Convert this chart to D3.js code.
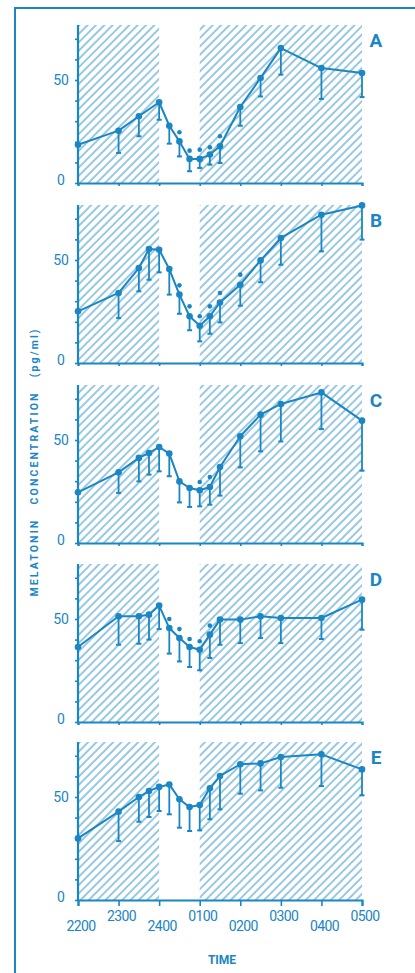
<!DOCTYPE html>
<html>
<head>
<meta charset="utf-8">
<script src="https://cdn.jsdelivr.net/npm/d3@7"></script>
<style>
	body { margin: 0; background: #fff; }
	svg { display: block; font-family: 'Roboto', 'Liberation Sans', sans-serif; }
</style>
</head>
<body>
<svg id="chart" width="415" height="973"></svg>
<script>
// sample times, hours from 2200 (22) to 0500 (29)
const times = [22, 23, 23.5, 23.75, 24, 24.25, 24.5, 24.75, 25, 25.25, 25.5, 26, 26.5, 27, 28, 29];

// panel A (no 2345 sample)
const meanA = [18.6, 25.4, 32.4, null, 39.2, 27.8, 20.2, 11.7, 11.7, 13.8, 17.8, 36.9, 51, 65.5, 55.8, 53.4];
const lowA = [null, 14.6, 22.7, null, 30.7, 19.1, 12.9, 5.7, 7.3, 8.9, 9.7, 27.8, 42, 52.6, 40.8, 41.7];
const dotTimesA = [24.5, 24.75, 25, 25.25, 25.5];
const dotA = [24.6, 15.7, 16.2, 17.3, 22.7];

// panel B
const meanB = [25.1, 34, 46.1, 55.3, 55, 45.6, 33.2, 22.7, 18.1, 22.7, 29.4, 38, 49.8, 60.7, 72, 76.5];
const lowB = [null, 21.8, 34.8, 40.4, 44, 33.2, 23.9, 15.9, 10.5, 14.2, 19.7, 27.8, 39.2, 47.7, 54.2, 59.9];
const dotTimesB = [24.5, 24.75, 25, 25.25, 25.5, 26];
const dotB = [37.7, 27.5, 22.7, 27.5, 34, 42.9];

// panel C
const meanC = [24.6, 34.3, 41.3, 43.7, 46.6, 43.4, 29.9, 26.7, 25.6, 27.2, 36.9, 51.8, 62.3, 67.5, 73.1, 59.4];
const lowC = [null, 24.3, 29.9, 33.2, 34.8, 32.4, 19.7, 17.5, 17.8, 18.6, 23, 36.7, 44.5, 49.3, 55.3, 35.1];
const dotTimesC = [25, 25.25];
const dotC = [29.6, 32];

// panel D
const meanD = [36.4, 51.3, 51.3, 52.1, 56.5, 45.6, 40.8, 36.4, 35.1, 42.4, 49.7, 49.7, 51.3, 50.5, 50.5, 59.4];
const lowD = [null, 37.5, 38, 40, 45.1, 33.2, 29.4, 26.7, 25.1, 31.1, 37.5, 38.3, 40.8, 38.3, 40.3, 44.8];
const dotTimesD = [24.25, 24.5, 24.75, 25, 25.25];
const dotD = [50, 45.1, 40.3, 39.2, 46.8];

// panel E
const meanE = [29.9, 42.9, 50, 52.9, 54.9, 56.1, 48.9, 45.1, 46.1, 54.2, 60.2, 65.9, 66.3, 69.4, 70.7, 63.4];
const lowE = [null, 28.6, 38, 40.3, 43.2, 41.6, 35.1, 33.5, 33.8, 39.2, 44, 51.6, 53.2, 54.5, 55.3, 50.8];
const dotTimesE = [];
const dotE = [];

const hourTicks = [22, 23, 24, 25, 26, 27, 28, 29];
const hourLabels = ['2200', '2300', '2400', '0100', '0200', '0300', '0400', '0500'];
const darkSpans = [[22, 24], [25, 29]];
const yTicks = [0, 10, 20, 30, 40, 50, 60, 70];
const yLabels = [0, 50];

const panels = [
	{ name: 'A', mean: meanA, low: lowA, dotTimes: dotTimesA, dots: dotA },
	{ name: 'B', mean: meanB, low: lowB, dotTimes: dotTimesB, dots: dotB },
	{ name: 'C', mean: meanC, low: lowC, dotTimes: dotTimesC, dots: dotC },
	{ name: 'D', mean: meanD, low: lowD, dotTimes: dotTimesD, dots: dotD },
	{ name: 'E', mean: meanE, low: lowE, dotTimes: dotTimesE, dots: dotE }
];

const blue = '#1a86c4';
const svg = d3.select('#chart');

// frame
svg.append('path')
	.attr('d', 'M415,8H15V973')
	.attr('fill', 'none')
	.attr('stroke', blue)
	.attr('stroke-width', 2);

// hatch
svg.append('defs').append('pattern')
	.attr('id', 'hatch')
	.attr('patternUnits', 'userSpaceOnUse')
	.attr('width', 10)
	.attr('height', 5.9)
	.attr('patternTransform', 'rotate(-45)')
	.append('line')
		.attr('x1', 0).attr('y1', 3)
		.attr('x2', 10).attr('y2', 3)
		.attr('stroke', blue)
		.attr('stroke-width', 1)
		.attr('opacity', 0.9);

const x = d3.scaleLinear().domain([22, 29]).range([78, 362]);
const bottoms = [183, 363, 543, 722, 900];
const plotH = 158;

panels.forEach((p, i) => {
	const bottom = bottoms[i];
	const y = d3.scaleLinear().domain([0, 50]).range([bottom, bottom - 103]);
	const g = svg.append('g');

	// shaded dark periods
	g.selectAll('.dark')
		.data(darkSpans)
		.join('rect')
			.attr('x', d => x(d[0]))
			.attr('width', d => x(d[1]) - x(d[0]))
			.attr('y', bottom - plotH)
			.attr('height', plotH)
			.attr('fill', 'url(#hatch)');

	// axes
	const yAxis = g.append('g')
		.attr('transform', `translate(${x(22)},0)`)
		.call(d3.axisLeft(y).tickValues(yTicks).tickSize(3).tickFormat(''));
	yAxis.select('.domain').attr('d', `M0,${bottom}V${bottom - plotH}`);

	const xAxis = g.append('g')
		.attr('transform', `translate(0,${bottom})`)
		.call(d3.axisBottom(x).tickValues(hourTicks).tickSize(i === 4 ? 6 : 3).tickFormat(''));

	[yAxis, xAxis].forEach(a => {
		a.select('.domain').attr('stroke', blue).attr('stroke-width', 2.2);
		a.selectAll('.tick line').attr('stroke', blue).attr('stroke-width', 1.6);
	});

	g.selectAll('.ylab')
		.data(yLabels)
		.join('text')
			.attr('x', 61)
			.attr('y', d => (d === 0 ? y(d) - 3 : y(d)) + 5)
			.attr('text-anchor', 'middle')
			.attr('fill', blue)
			.attr('font-size', 14)
			.text(d => d);

	const pts = times.map((t, j) => ({ t, m: p.mean[j], lo: p.low[j] })).filter(d => d.m != null);

	// error bars
	const bars = pts.filter(d => d.lo != null);
	g.selectAll('.err')
		.data(bars)
		.join('line')
			.attr('x1', d => x(d.t)).attr('x2', d => x(d.t))
			.attr('y1', d => y(d.m)).attr('y2', d => y(d.lo))
			.attr('stroke', blue)
			.attr('stroke-width', 1.8);
	g.selectAll('.cap')
		.data(bars)
		.join('line')
			.attr('x1', d => x(d.t) - 2.5).attr('x2', d => x(d.t) + 2.5)
			.attr('y1', d => y(d.lo)).attr('y2', d => y(d.lo))
			.attr('stroke', blue)
			.attr('stroke-width', 2);

	// mean line
	const line = d3.line()
		.x(d => x(d.t))
		.y(d => y(d.m));
	g.append('path')
		.datum(pts)
		.attr('d', line)
		.attr('fill', 'none')
		.attr('stroke', blue)
		.attr('stroke-width', 2)
		.attr('stroke-linejoin', 'round');

	g.selectAll('.pt')
		.data(pts)
		.join('circle')
			.attr('cx', d => x(d.t))
			.attr('cy', d => y(d.m))
			.attr('r', 3.3)
			.attr('fill', blue);

	// second group, dots only
	g.selectAll('.dot')
		.data(p.dotTimes.map((t, j) => ({ t, v: p.dots[j] })))
		.join('circle')
			.attr('cx', d => x(d.t))
			.attr('cy', d => y(d.v))
			.attr('r', 2.3)
			.attr('fill', blue);

	g.append('text')
		.attr('x', 376)
		.attr('y', bottom - plotH + 22)
		.attr('text-anchor', 'middle')
		.attr('font-size', 19)
		.attr('font-weight', 'bold')
		.attr('fill', blue)
		.text(p.name);
});

// time labels, staggered
const lastBottom = bottoms[4];
svg.selectAll('.xlab')
	.data(hourTicks)
	.join('text')
		.attr('x', d => x(d) + 3)
		.attr('y', (d, i) => lastBottom + (i % 2 ? 21 : 31))
		.attr('text-anchor', 'middle')
		.attr('font-size', 14)
		.attr('letter-spacing', -0.6)
		.attr('fill', blue)
		.text((d, i) => hourLabels[i]);

svg.append('text')
	.attr('x', 222)
	.attr('y', 964)
	.attr('text-anchor', 'middle')
	.attr('font-size', 12)
	.attr('font-weight', 'bold')
	.attr('fill', blue)
	.text('TIME');

svg.append('text')
	.attr('transform', 'translate(38,463) rotate(-90)')
	.attr('text-anchor', 'middle')
	.attr('font-size', 10.5)
	.attr('font-weight', 'bold')
	.attr('fill', blue)
	.attr('textLength', 267)
	.attr('lengthAdjust', 'spacing')
	.attr('xml:space', 'preserve')
	.text('MELATONIN   CONCENTRATION   (pg/ml)');
</script>
</body>
</html>
